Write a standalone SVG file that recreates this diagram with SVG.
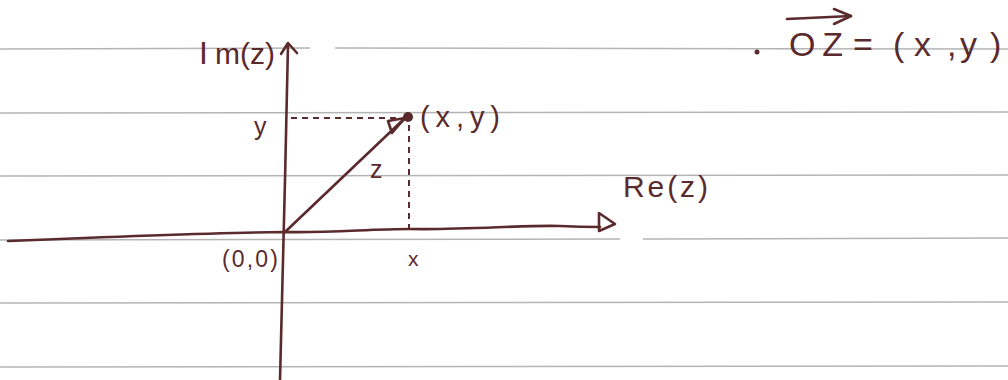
<svg xmlns="http://www.w3.org/2000/svg" width="1008" height="380" viewBox="0 0 1008 380">
  <style>
    .rule { stroke: #b4b4b4; stroke-width: 1.5; fill: none; }
    .ink { stroke: #5a2a2d; stroke-width: 2.6; fill: none; stroke-linecap: round; stroke-linejoin: round; }
    .dash { stroke: #5a2a2d; stroke-width: 2; fill: none; stroke-dasharray: 6 5; }
    .lbl { font-family: "Liberation Sans", "DejaVu Sans", sans-serif; fill: #5a2a2d; }
  </style>
  <rect width="1008" height="380" fill="#ffffff"/>
  <g id="paper-rules">
    <line class="rule" x1="0" y1="49" x2="310" y2="48"/>
    <line class="rule" x1="335" y1="48" x2="1008" y2="49"/>
    <line class="rule" x1="0" y1="113" x2="1008" y2="112"/>
    <line class="rule" x1="0" y1="176" x2="1008" y2="175"/>
    <line class="rule" x1="0" y1="240" x2="620" y2="239"/>
    <line class="rule" x1="643" y1="239" x2="1008" y2="238"/>
    <line class="rule" x1="0" y1="303" x2="1008" y2="302"/>
    <line class="rule" x1="0" y1="367" x2="1008" y2="366"/>
  </g>
  <g id="connectors">
    <path id="re-axis" class="ink" d="M8 241 C 80 238, 200 233, 285 232 C 330 233, 370 229, 410 229 C 470 230, 520 225, 560 226 C 580 227, 590 227, 600 227"/>
    <path class="ink" d="M599 213 L 615 224 L 599 231 Z"/>
    <path id="im-axis" class="ink" d="M280 380 L 283 260 L 285 180 L 288 44"/>
    <path class="ink" d="M281 54 L 288 43 L 297 53"/>
    <path id="vector-z" class="ink" d="M285 232 L 405 118"/>
    <path class="ink" d="M405 118 L 388 121 L 392 133 Z"/>
    <line class="dash" x1="291" y1="118" x2="398" y2="118"/>
    <line class="dash" x1="409" y1="125" x2="409" y2="231"/>
  </g>
  <g id="point-xy">
    <circle cx="408" cy="117" r="5" fill="#5a2a2d"/>
    <text class="lbl" x="420" y="127" font-size="29" textLength="80" lengthAdjust="spacing">(x,y)</text>
  </g>
  <g id="label-im">
    <text class="lbl" y="64"><tspan x="199" font-size="32">I</tspan><tspan x="215" font-size="30">m(z)</tspan></text>
  </g>
  <g id="label-re">
    <text class="lbl" x="623" y="197" font-size="30" textLength="85" lengthAdjust="spacing">Re(z)</text>
  </g>
  <g id="label-y">
    <text class="lbl" x="254" y="135" font-size="25">y</text>
  </g>
  <g id="label-z">
    <text class="lbl" x="370" y="178" font-size="25">z</text>
  </g>
  <g id="label-x">
    <text class="lbl" x="408" y="266" font-size="21">x</text>
  </g>
  <g id="label-origin">
    <text class="lbl" x="222" y="267" font-size="23" textLength="56" lengthAdjust="spacing">(0,0)</text>
  </g>
  <g id="note-oz">
    <circle cx="757" cy="52" r="2.5" fill="#5a2a2d"/>
    <text class="lbl" x="789" y="56" font-size="34" textLength="54" lengthAdjust="spacing">OZ</text>
    <path class="ink" d="M787 19 L 851 16"/>
    <path class="ink" d="M834 9 L 851 16 L 834 24"/>
    <text class="lbl" y="56" font-size="34" x="853 893 914 947 960 990">=(x,y)</text>
  </g>
</svg>
